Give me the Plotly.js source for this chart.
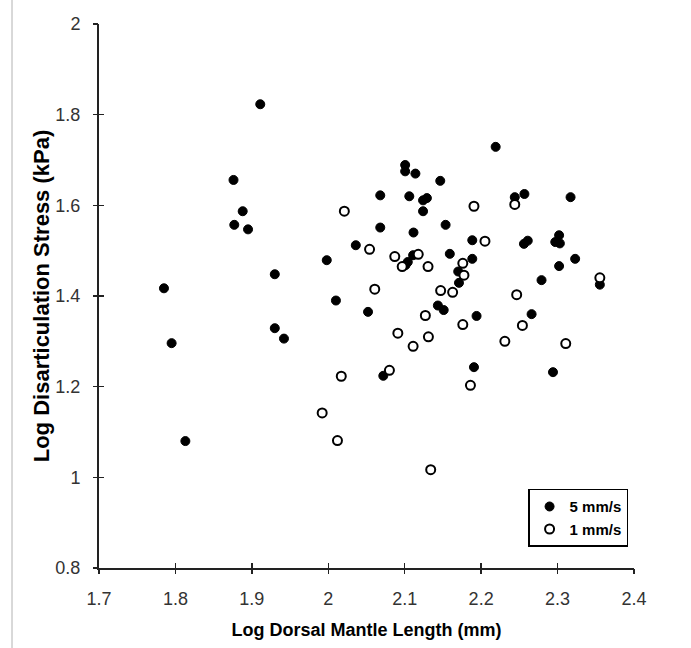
<!DOCTYPE html>
<html>
<head>
<meta charset="utf-8">
<script src="https://cdn.plot.ly/plotly-3.0.1.min.js"></script>
<style>
html,body{margin:0;padding:0;background:#fff;}
#chart{width:691px;height:648px;}
</style>
</head>
<body>
<div id="chart"></div>
<script>
// 5 mm/s (filled)
var fastX = [1.785,1.795,1.813,1.876,1.877,1.888,1.895,1.911,1.930,1.930,1.942,1.998,2.010,2.036,2.052,2.068,2.068,2.072,2.1006,2.1006,2.114,2.106,2.124,2.129,2.124,2.1115,2.111,2.104,2.101,2.1465,2.1535,2.219,2.244,2.2566,2.317,2.1884,2.159,2.1884,2.170,2.171,2.1434,2.151,2.194,2.256,2.261,2.297,2.302,2.303,2.323,2.302,2.279,2.3553,2.266,2.294,2.1906];
var fastY = [1.417,1.296,1.080,1.656,1.557,1.587,1.547,1.823,1.448,1.329,1.306,1.479,1.390,1.512,1.365,1.622,1.551,1.224,1.689,1.675,1.670,1.620,1.611,1.616,1.587,1.540,1.490,1.475,1.468,1.654,1.557,1.729,1.618,1.625,1.618,1.523,1.493,1.482,1.454,1.429,1.379,1.369,1.356,1.515,1.522,1.519,1.534,1.516,1.482,1.466,1.435,1.425,1.360,1.232,1.243];
// 1 mm/s (open)
var slowX = [1.992,2.012,2.017,2.021,2.054,2.0608,2.080,2.087,2.1177,2.0967,2.1305,2.127,2.091,2.111,2.131,2.134,2.1906,2.244,2.205,2.176,2.1775,2.147,2.1627,2.2465,2.176,2.254,2.231,2.3107,2.186,2.3553];
var slowY = [1.142,1.081,1.223,1.587,1.503,1.415,1.236,1.487,1.492,1.465,1.465,1.357,1.318,1.289,1.310,1.017,1.598,1.602,1.521,1.472,1.446,1.412,1.408,1.403,1.337,1.335,1.300,1.295,1.203,1.440];
var seriesNames = ['5 mm/s','1 mm/s'];
var xTicks = [1.7,1.8,1.9,2.0,2.1,2.2,2.3,2.4];
var xTickText = ['1.7','1.8','1.9','2','2.1','2.2','2.3','2.4'];
var yTicks = [0.8,1.0,1.2,1.4,1.6,1.8,2.0];
var yTickText = ['0.8','1','1.2','1.4','1.6','1.8','2'];

var regular = 'Liberation Sans, Arial, sans-serif';
var tickFont = {family:regular, size:18, color:'#333'};
var traces = [
  {x: fastX, y: fastY, type:'scatter', mode:'markers', name: seriesNames[0],
   marker:{symbol:'circle', size:9, color:'#000', line:{color:'#000', width:1}}},
  // open series drawn on an overlay axis pair with identical ranges (carries the outward half of the cross ticks)
  {x: slowX, y: slowY, xaxis:'x2', yaxis:'y2', type:'scatter', mode:'markers', name: seriesNames[1],
   marker:{symbol:'circle', size:9, color:'#fff', line:{color:'#000', width:2}}}
];
var layout = {
  width:691, height:648,
  margin:{l:99, r:57, t:24, b:80},
  paper_bgcolor:'#fff', plot_bgcolor:'#fff',
  showlegend:true,
  font:{family:regular, size:17, color:'#333'},
  xaxis: {range:[1.7,2.4], autorange:false, tickmode:'array', tickvals:xTicks, ticktext:xTickText,
    showgrid:false, zeroline:false, showline:true, linecolor:'#222', linewidth:2,
    ticks:'inside', ticklen:5, tickwidth:1.5, tickcolor:'#222', ticklabelstandoff:13,
    tickfont:tickFont,
    title:{text:'Log Dorsal Mantle Length (mm)', font:{family:regular, size:18, color:'#000', weight:'bold'}, standoff:16}},
  yaxis: {range:[0.8,2.0], autorange:false, tickmode:'array', tickvals:yTicks, ticktext:yTickText,
    showgrid:false, zeroline:false, showline:true, linecolor:'#222', linewidth:2,
    ticks:'inside', ticklen:5, tickwidth:1.5, tickcolor:'#222', ticklabelstandoff:13,
    tickfont:tickFont,
    title:{text:'Log Disarticulation Stress (kPa)', font:{family:regular, size:22, color:'#000', weight:'bold'}, standoff:0}},
  xaxis2: {overlaying:'x', range:[1.7,2.4], autorange:false, tickmode:'array', tickvals:xTicks, showticklabels:false,
    ticks:'outside', ticklen:5, tickwidth:1.5, tickcolor:'#222', showgrid:false, zeroline:false, showline:false, side:'bottom'},
  yaxis2: {overlaying:'y', range:[0.8,2.0], autorange:false, tickmode:'array', tickvals:yTicks, showticklabels:false,
    ticks:'outside', ticklen:5, tickwidth:1.5, tickcolor:'#222', showgrid:false, zeroline:false, showline:false, side:'left'},
  legend:{x:0.802, y:0.1457, xanchor:'left', yanchor:'top', bgcolor:'#fff', bordercolor:'#000', borderwidth:1.5,
    font:{family:regular, size:15, color:'#000', weight:'bold'}, itemwidth:30, tracegroupgap:0},
  shapes:[{type:'line', xref:'paper', yref:'paper', x0:-0.1626, x1:-0.1626, y0:-0.2, y1:1.1, line:{color:'#cccccc', width:1.5}}]
};
Plotly.newPlot('chart', traces, layout, {displayModeBar:false, staticPlot:true});
</script>
</body>
</html>
